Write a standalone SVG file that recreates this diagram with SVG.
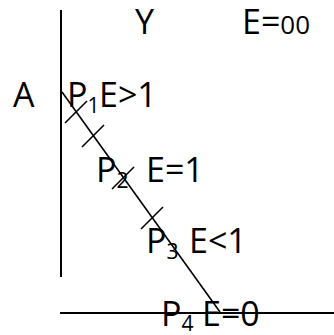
<svg xmlns="http://www.w3.org/2000/svg" width="334" height="335" viewBox="0 0 334 335">
<style>
text{font-family:"Open Sans","Liberation Sans",sans-serif;font-size:34px;fill:#000}
.sub{font-size:21px}
.ln{stroke:#000;stroke-width:2;fill:none}
.dg{stroke:#000;stroke-width:1.6;fill:none}
</style>
<rect width="334" height="335" fill="#fff"/>
<g id="connectors">
<line class="ln" x1="61" y1="10" x2="61" y2="277"/>
<line class="ln" x1="60" y1="313" x2="334" y2="313"/>
<line class="dg" x1="62" y1="92" x2="220" y2="312"/>
<line class="dg" x1="65" y1="123" x2="87" y2="101"/>
<line class="dg" x1="82" y1="147" x2="104" y2="125"/>
<line class="dg" x1="112" y1="189" x2="134" y2="167"/>
<line class="dg" x1="141" y1="229" x2="163" y2="207"/>
</g>
<g id="Y"><text x="135" y="34">Y</text></g>
<g id="Einf"><text x="242" y="34">E=<tspan font-size="26">00</tspan></text></g>
<g id="A"><text x="13" y="107">A</text></g>
<g id="P1"><text x="67" y="107">P<tspan class="sub" dy="6">1</tspan><tspan x="99" dy="-6">E&gt;1</tspan></text></g>
<g id="P2"><text x="96" y="182">P<tspan class="sub" dy="6">2</tspan><tspan x="146" dy="-6">E=1</tspan></text></g>
<g id="P3"><text x="146" y="253">P<tspan class="sub" dy="6">3</tspan><tspan x="189" dy="-6">E&lt;1</tspan></text></g>
<g id="P4"><text x="161" y="326">P<tspan class="sub" dy="5">4</tspan><tspan x="202" dy="-5">E=0</tspan></text></g>
</svg>
